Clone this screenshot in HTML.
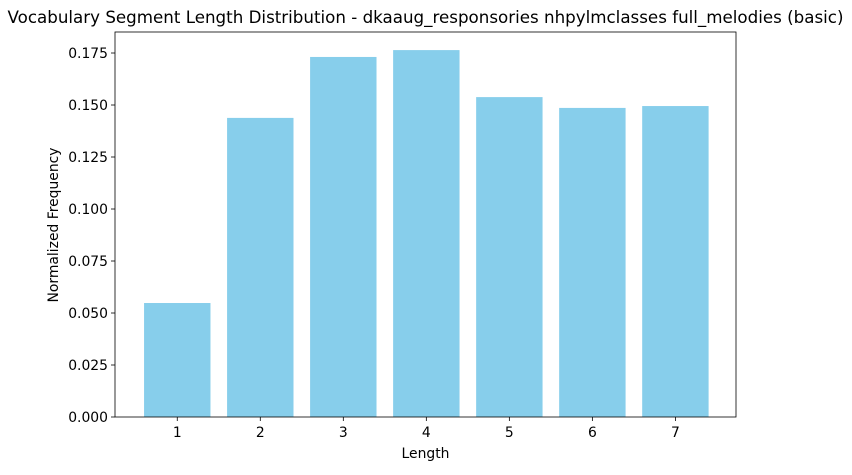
<!DOCTYPE html>
<html><head><meta charset="utf-8"><style>
body{margin:0;background:#fff;width:852px;height:470px;overflow:hidden}
svg text{font-family:"DejaVu Sans","Liberation Sans",sans-serif;fill:#000}
</style></head><body>
<svg id="chart" width="852" height="470" xmlns="http://www.w3.org/2000/svg">
<text x="425.5" y="23" text-anchor="middle" font-size="16.7">Vocabulary Segment Length Distribution - dkaaug_responsories nhpylmclasses full_melodies (basic)</text>
<g id="bars"></g>
<g id="axes"></g>
<text x="425.5" y="458" text-anchor="middle" font-size="13.9">Length</text>
<text transform="translate(58,225) rotate(-90)" text-anchor="middle" font-size="13.9">Normalized Frequency</text>
</svg>
<script>
const categories = [1,2,3,4,5,6,7];
const values = [0.0548,0.1438,0.1731,0.1764,0.1538,0.1486,0.1495];
const yTicks = [0,0.025,0.05,0.075,0.1,0.125,0.15,0.175];
const yTickLabels = ["0.000","0.025","0.050","0.075","0.100","0.125","0.150","0.175"];
const L=115,R=736,T=32,B=417;
const xMin=0.25,xMax=7.73,yMax=0.18510;
const x=v=>L+(v-xMin)/(xMax-xMin)*(R-L);
const y=v=>B-v/yMax*(B-T);
const NS="http://www.w3.org/2000/svg";
const bars=document.getElementById('bars'), axes=document.getElementById('axes');
function mk(tag,attrs,parent){const e=document.createElementNS(NS,tag);for(const k in attrs)e.setAttribute(k,attrs[k]);parent.appendChild(e);return e;}
categories.forEach((c,i)=>{
  const w=x(c+0.4)-x(c-0.4);
  const r=mk('rect',{x:x(c-0.4),y:y(values[i]),width:w,height:B-y(values[i]),fill:'#87ceeb'},bars);
  
  
  const t=mk('line',{x1:x(c),x2:x(c),y1:B,y2:B+4,stroke:'#000','stroke-width':0.8},axes);
  
  
  const lb=mk('text',{x:x(c),y:B+20,'text-anchor':'middle','font-size':13.9},axes);
  lb.textContent=c;
  
  
});
yTicks.forEach((v,i)=>{
  const t=mk('line',{x1:L-4,x2:L,y1:y(v),y2:y(v),stroke:'#000','stroke-width':0.8},axes);
  
  
  const lb=mk('text',{x:L-7,y:y(v)+5,'text-anchor':'end','font-size':13.9},axes);
  lb.textContent=yTickLabels[i];
  
  
});
const f=mk('rect',{x:L,y:T,width:R-L,height:B-T,fill:'none',stroke:'#000','stroke-width':0.8},axes);


</script>
</body></html>
